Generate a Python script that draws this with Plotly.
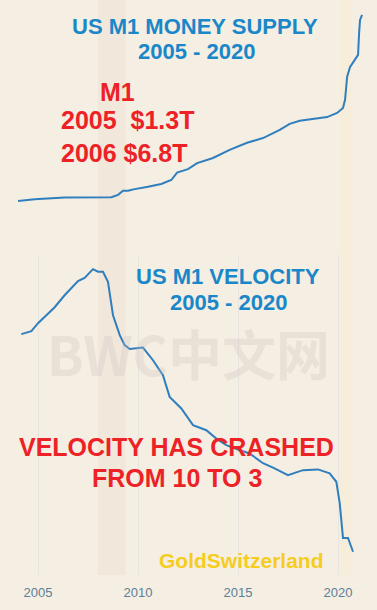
import plotly.graph_objects as go

# ---- data ----
m1_dates = ["2004-01-01", "2004-11-01", "2006-05-01", "2007-12-01", "2008-09-01", "2009-01-01",
            "2009-04-01", "2009-07-01", "2009-11-01", "2010-07-01", "2011-03-01", "2011-09-01",
            "2011-12-15", "2012-07-01", "2012-12-15", "2013-10-01", "2014-08-01", "2015-06-15",
            "2016-04-01", "2017-02-01", "2017-08-01", "2018-02-01", "2018-10-01", "2019-06-15",
            "2019-12-15", "2020-04-01", "2020-05-08", "2020-06-15", "2020-08-08", "2020-11-08",
            "2021-01-01", "2021-01-20", "2021-02-06", "2021-03-15"]
m1_values = [1.30, 1.35, 1.40, 1.40, 1.41, 1.48,
             1.60, 1.60, 1.65, 1.72, 1.80, 1.92,
             2.14, 2.24, 2.42, 2.57, 2.81, 3.02,
             3.16, 3.40, 3.58, 3.67, 3.72, 3.78,
             3.90, 4.05, 4.29, 4.97, 5.26, 5.47,
             5.62, 6.27, 6.65, 6.80]

vel_dates = ["2004-03-01", "2004-09-01", "2005-01-01", "2005-11-01", "2006-05-01", "2007-01-01",
             "2007-05-01", "2007-10-01", "2008-01-01", "2008-04-01", "2008-07-01", "2008-10-01",
             "2009-02-01", "2009-05-01", "2009-08-01", "2010-04-01", "2010-10-01", "2011-04-01",
             "2011-08-01", "2012-03-01", "2012-10-01", "2013-06-01", "2013-12-01", "2014-06-01",
             "2014-11-01", "2015-08-01", "2016-04-01", "2016-10-01", "2017-07-01", "2018-04-01",
             "2019-01-01", "2019-08-01", "2019-12-01", "2020-02-01", "2020-04-01", "2020-07-01",
             "2020-10-01"]
vel_values = [8.91, 8.99, 9.21, 9.65, 9.98, 10.37,
              10.46, 10.70, 10.63, 10.63, 10.35, 9.43,
              8.88, 8.61, 8.50, 8.54, 8.19, 7.78,
              7.18, 6.86, 6.40, 6.26, 6.03, 5.85,
              5.76, 5.62, 5.35, 5.23, 5.02, 5.16,
              5.18, 5.07, 4.84, 4.25, 3.29, 3.29,
              2.91]

tick_vals = ["2005-01-01", "2010-01-01", "2015-01-01", "2020-01-01"]
tick_text = ["2005", "2010", "2015", "2020"]

recessions = [("2008-01-01", "2009-05-15", "rgba(232,208,198,0.22)"),
              ("2020-02-01", "2020-09-01", "rgba(250,238,205,0.35)")]

W, H = 377, 610
L, R, T, B = 18, 14, 0, 35
PW, PH = W - L - R, H - T - B


def p(px, py):
    return (px - L) / PW, (H - B - py) / PH


LINE = "#2f7fbe"
BLUE = "#1a87c9"
RED = "#ec2227"
YEL = "#f6cd1f"
BG = "#f5eee2"

fig = go.Figure()
fig.add_trace(go.Scatter(x=m1_dates, y=m1_values, mode="lines",
                         line=dict(color=LINE, width=2), xaxis="x", yaxis="y", hoverinfo="skip"))
fig.add_trace(go.Scatter(x=vel_dates, y=vel_values, mode="lines",
                         line=dict(color=LINE, width=2), xaxis="x2", yaxis="y2", hoverinfo="skip"))

shapes = []
for x0, x1, c in recessions:
    shapes.append(dict(type="rect", xref="x2", yref="paper", x0=x0, x1=x1, y0=0, y1=1,
                       fillcolor=c, line=dict(width=0), layer="below"))
fig.update_layout(shapes=shapes)

ann = []


def text(s, px, py, size, color, font="Liberation Sans, Arial, sans-serif"):
    x, y = p(px, py)
    ann.append(dict(text=s, x=x, y=y, xref="paper", yref="paper", showarrow=False,
                    xanchor="center", yanchor="middle",
                    font=dict(size=size, color=color, family=font)))


text("<b>BWC中文网</b>", 188, 352, 54, "rgba(200,195,192,0.28)", "Noto Sans CJK SC, sans-serif")
text("<b>US M1 MONEY SUPPLY</b>", 195, 26, 22, BLUE)
text("<b>2005 - 2020</b>", 196, 52, 22, BLUE)
text("<b>M1</b>", 117, 92, 25, RED)
text("<b>2005  $1.3T</b>", 128, 120, 25, RED)
text("<b>2006 $6.8T</b>", 124, 153, 25, RED)
text("<b>US M1 VELOCITY</b>", 228, 276, 22, BLUE)
text("<b>2005 - 2020</b>", 228, 302, 22, BLUE)
text("<b>VELOCITY HAS CRASHED</b>", 176, 447, 25, RED)
text("<b>FROM 10 TO 3</b>", 177, 478, 25, RED)
text("<b>GoldSwitzerland</b>", 242, 560, 21, YEL)

xr = ["2004-01-01", "2021-04-01"]
fig.update_layout(
    width=W, height=H,
    margin=dict(l=L, r=R, t=T, b=B),
    paper_bgcolor=BG,
    plot_bgcolor=BG,
    showlegend=False,
    annotations=ann,
    xaxis=dict(domain=[0, 1], anchor="y", range=xr, showticklabels=False,
               showgrid=False, zeroline=False, showline=False, ticks=""),
    yaxis=dict(domain=[1 - 237 / PH, 1], anchor="x", range=[0.235, 7.24],
               showticklabels=False, showgrid=False, zeroline=False),
    xaxis2=dict(domain=[0, 1], anchor="y2", range=xr, tickvals=tick_vals, ticktext=tick_text,
                showgrid=True, gridcolor="rgba(215,218,222,0.45)", zeroline=False,
                showline=False, ticks="outside", ticklen=5, tickcolor="rgba(0,0,0,0)",
                tickfont=dict(size=13, color="#5b7f98", family="Liberation Sans, Arial, sans-serif")),
    yaxis2=dict(domain=[0, 320 / PH], anchor="x2", range=[2.27, 11.09],
                showticklabels=False, showgrid=False, zeroline=False),
)

fig.write_html("out.html", config={"displayModeBar": False},
               post_script="document.body.style.margin='0';")
